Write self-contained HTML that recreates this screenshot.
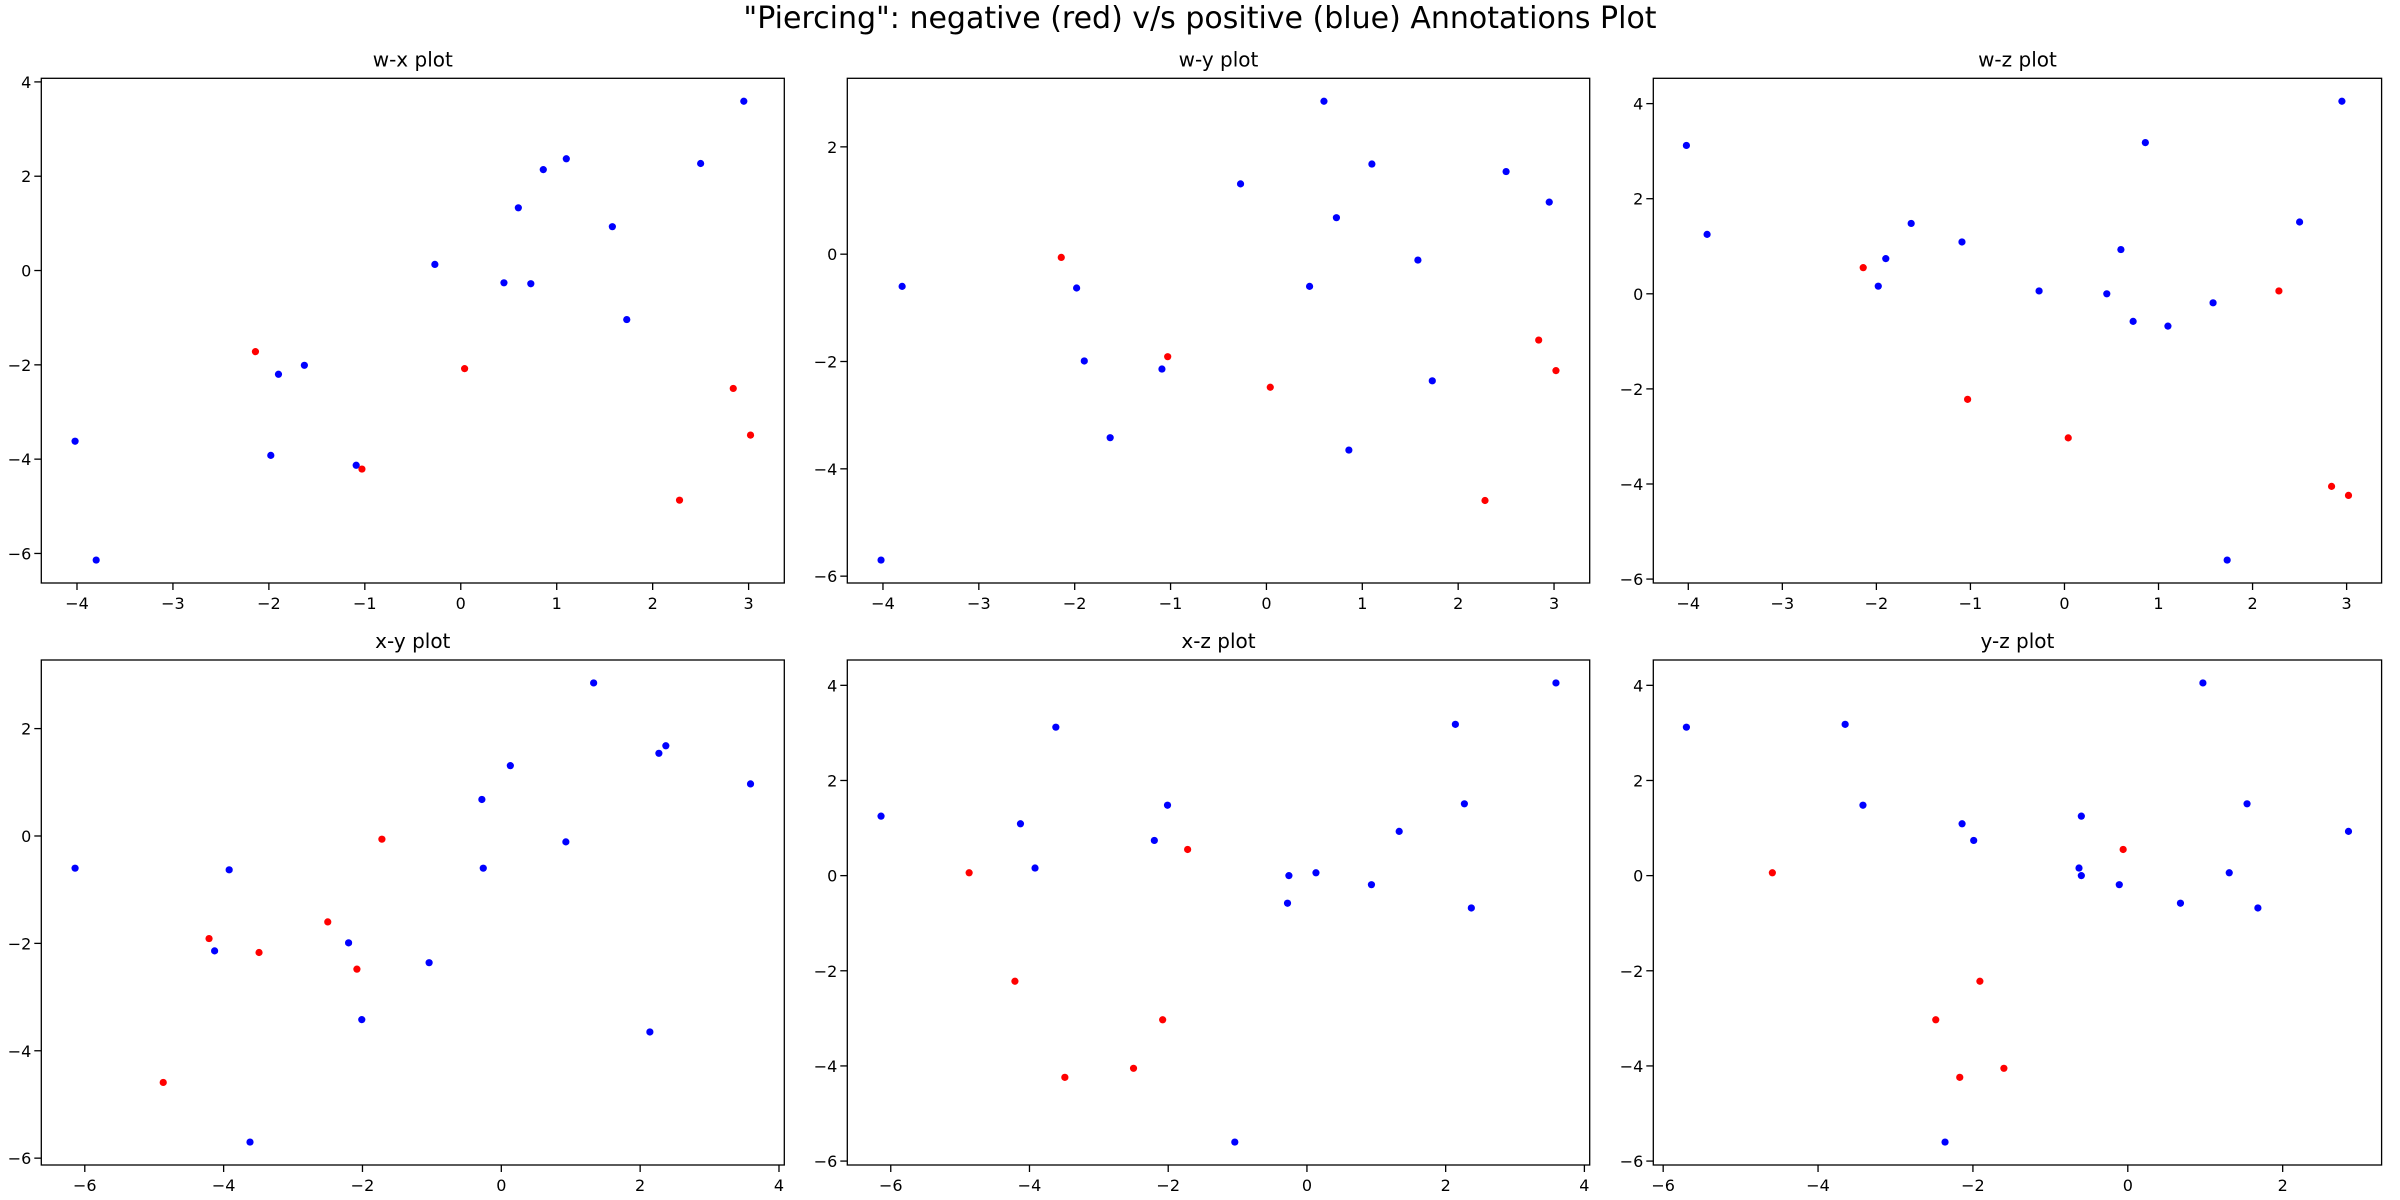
<!DOCTYPE html>
<html><head><meta charset="utf-8"><style>
html,body{margin:0;padding:0;background:#fff;}
svg{display:block;font-family:"DejaVu Sans","Liberation Sans",sans-serif;}
</style></head><body>
<svg id="fig" width="2400" height="1200" viewBox="0 0 2400 1200" xmlns="http://www.w3.org/2000/svg">
<rect width="2400" height="1200" fill="#fff"/>
<text x="1200" y="28" font-size="30" text-anchor="middle">"Piercing": negative (red) v/s positive (blue) Annotations Plot</text>
</svg>
<script>
// 4D points: w, x, y, z, label (1 = positive/blue, 0 = negative/red)
const wVals = [-4.02,-3.80,-1.98,-1.90,-1.63,-1.09,-0.27,0.45,0.60,0.73,0.86,1.10,1.58,1.73,2.50,2.95,
               -2.14,-1.03,0.04,2.28,2.84,3.02];
const xVals = [-3.62,-6.14,-3.92,-2.20,-2.01,-4.13,0.13,-0.26,1.33,-0.28,2.14,2.37,0.93,-1.04,2.27,3.59,
               -1.72,-4.21,-2.08,-4.87,-2.50,-3.49];
const yVals = [-5.70,-0.60,-0.63,-1.99,-3.42,-2.14,1.31,-0.60,2.85,0.68,-3.65,1.68,-0.11,-2.36,1.54,0.97,
               -0.06,-1.91,-2.48,-4.59,-1.60,-2.17];
const zVals = [3.12,1.25,0.16,0.74,1.48,1.09,0.06,0.00,0.93,-0.58,3.18,-0.68,-0.19,-5.60,1.51,4.05,
               0.55,-2.22,-3.03,0.06,-4.05,-4.24];
const labels = [1,1,1,1,1,1,1,1,1,1,1,1,1,1,1,1,0,0,0,0,0,0];
const wTicks = [-4,-3,-2,-1,0,1,2,3];
const xTicks = [-6,-4,-2,0,2,4];
const yTicks = [-6,-4,-2,0,2];
const zTicks = [-6,-4,-2,0,2,4];

const NS = "http://www.w3.org/2000/svg";
const svg = document.getElementById('fig');
function mk(tag, attrs, parent){const e=document.createElementNS(NS,tag);for(const k in attrs)e.setAttribute(k,attrs[k]);(parent||svg).appendChild(e);return e;}
function range(arr){let mn=Math.min(...arr),mx=Math.max(...arr),m=(mx-mn)*0.05;return [mn-m,mx+m];}

const dims = {w:wVals,x:xVals,y:yVals,z:zVals};
const ticksOf = {w:wTicks,x:xTicks,y:yTicks,z:zTicks};
const cols = [[41.3,784.3],[847.3,1589.7],[1653.3,2381.6]];
const rows = [[78.3,583],[660,1165]];
const plots = [['w','x',0,0],['w','y',0,1],['w','z',0,2],['x','y',1,0],['x','z',1,1],['y','z',1,2]];

plots.forEach(([a,b,r,c])=>{
  const L=cols[c][0],R=cols[c][1],T=rows[r][0],B=rows[r][1];
  const xr=range(dims[a]), yr=range(dims[b]);
  const sx=v=>L+(v-xr[0])/(xr[1]-xr[0])*(R-L);
  const sy=v=>B-(v-yr[0])/(yr[1]-yr[0])*(B-T);
  const g=mk('g',{});
  
  
  const t=mk('text',{x:(L+R)/2,y:T-12,'font-size':20,'text-anchor':'middle'},g);
  t.textContent=a+'-'+b+' plot';
  
  
  dims[a].forEach((v,i)=>{
    const p=mk('circle',{cx:sx(v),cy:sy(dims[b][i]),r:3.6,fill:labels[i]?'#0000ff':'#ff0000'},g);
    
    
  });
  const fr=mk('rect',{x:L,y:T,width:R-L,height:B-T,fill:'none',stroke:'#000','stroke-width':1.3},g);
  
  
  ticksOf[a].forEach(tv=>{
    const px=sx(tv); if(px<L-1||px>R+1) return;
    mk('line',{x1:px,y1:B,x2:px,y2:B+7,stroke:'#000','stroke-width':1.3},g);
    const tl=mk('text',{x:px,y:B+26,'font-size':16,'text-anchor':'middle'},g);
    tl.textContent=(tv<0?'\u2212'+(-tv):tv);
    
    
  });
  ticksOf[b].forEach(tv=>{
    const py=sy(tv); if(py<T-1||py>B+1) return;
    mk('line',{x1:L-7,y1:py,x2:L,y2:py,stroke:'#000','stroke-width':1.3},g);
    const tl=mk('text',{x:L-10,y:py+6,'font-size':16,'text-anchor':'end'},g);
    tl.textContent=(tv<0?'\u2212'+(-tv):tv);
    
    
  });
});
</script>
</body></html>
